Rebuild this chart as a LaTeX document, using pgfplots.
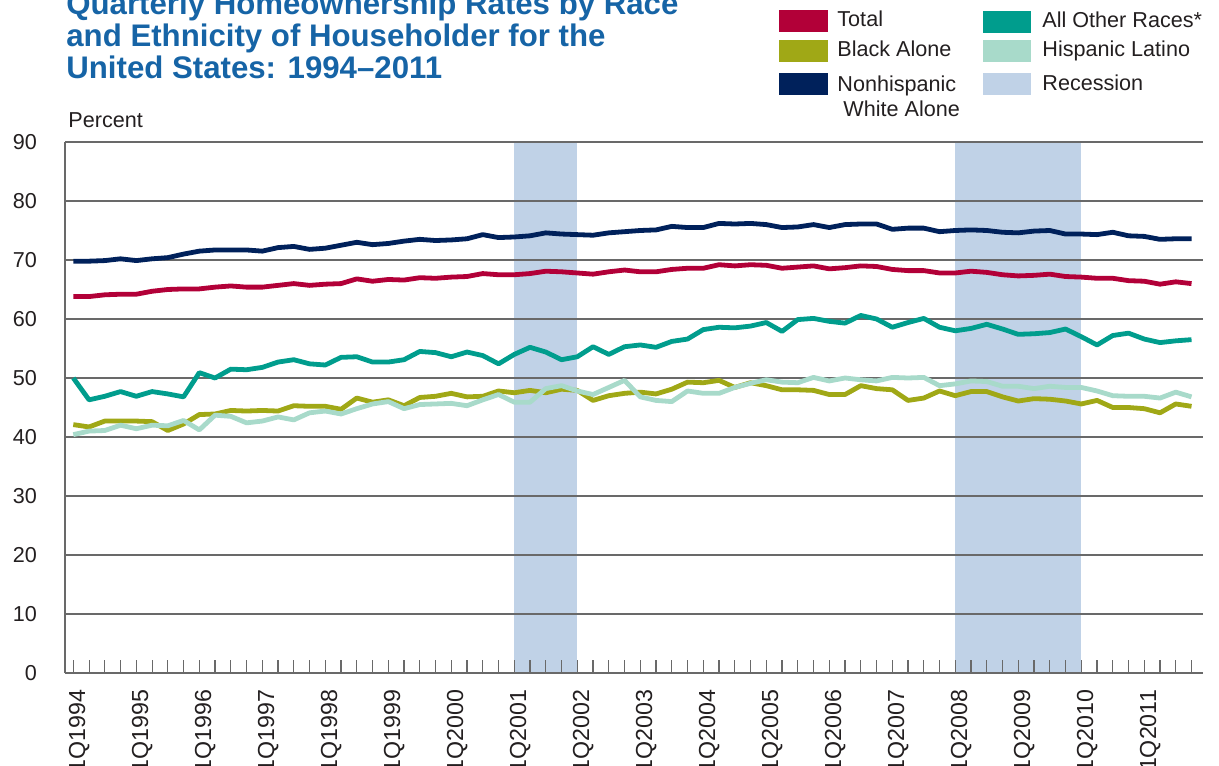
\documentclass[border=0pt]{standalone}
\usepackage{fontspec}
\setmainfont{Liberation Sans}
\usepackage{pgfplots}
\usepackage{pgfplotstable}
\pgfplotsset{compat=1.18}
\definecolor{cTotal}{RGB}{178,0,56}
\definecolor{cBlack}{RGB}{160,168,22}
\definecolor{cWhite}{RGB}{0,33,91}
\definecolor{cOther}{RGB}{0,157,141}
\definecolor{cHisp}{RGB}{168,218,202}
\definecolor{cRecess}{RGB}{192,210,231}
\definecolor{cTitle}{RGB}{22,100,166}
\definecolor{gridgray}{RGB}{105,105,105}
\definecolor{txt}{RGB}{35,31,32}
\pgfplotstableread{
i total black white other hisp
0 63.8 42.1 69.8 50.0 40.4
1 63.8 41.7 69.8 46.3 41.0
2 64.1 42.7 69.9 46.9 41.1
3 64.2 42.7 70.2 47.7 42.0
4 64.2 42.7 69.9 46.9 41.4
5 64.7 42.6 70.2 47.7 42.0
6 65.0 41.1 70.4 47.3 41.9
7 65.1 42.2 71.0 46.8 42.8
8 65.1 43.8 71.5 50.9 41.2
9 65.4 43.9 71.7 50.0 43.7
10 65.6 44.5 71.7 51.5 43.5
11 65.4 44.4 71.7 51.4 42.4
12 65.4 44.5 71.5 51.8 42.7
13 65.7 44.4 72.1 52.7 43.4
14 66.0 45.3 72.3 53.1 42.9
15 65.7 45.2 71.8 52.4 44.1
16 65.9 45.2 72.0 52.2 44.4
17 66.0 44.7 72.5 53.5 43.9
18 66.8 46.6 73.0 53.6 44.8
19 66.4 45.9 72.6 52.7 45.6
20 66.7 46.3 72.8 52.7 46.0
21 66.6 45.3 73.2 53.1 44.8
22 67.0 46.7 73.5 54.5 45.5
23 66.9 46.9 73.3 54.3 45.6
24 67.1 47.4 73.4 53.6 45.7
25 67.2 46.8 73.6 54.4 45.3
26 67.7 46.9 74.3 53.8 46.3
27 67.5 47.8 73.8 52.4 47.2
28 67.5 47.5 73.9 54.0 45.9
29 67.7 47.9 74.1 55.2 45.9
30 68.1 47.5 74.6 54.4 48.2
31 68.0 48.1 74.4 53.1 48.7
32 67.8 47.9 74.3 53.6 47.8
33 67.6 46.2 74.2 55.3 47.2
34 68.0 47.0 74.6 54.0 48.4
35 68.3 47.4 74.8 55.3 49.6
36 68.0 47.6 75.0 55.6 46.8
37 68.0 47.3 75.1 55.2 46.2
38 68.4 48.1 75.7 56.2 46.0
39 68.6 49.3 75.5 56.6 47.8
40 68.6 49.2 75.5 58.2 47.4
41 69.2 49.6 76.2 58.6 47.4
42 69.0 48.4 76.1 58.5 48.4
43 69.2 49.2 76.2 58.8 49.1
44 69.1 48.7 76.0 59.4 49.7
45 68.6 48.0 75.5 57.9 49.3
46 68.8 48.0 75.6 59.9 49.2
47 69.0 47.9 76.0 60.1 50.1
48 68.5 47.2 75.5 59.6 49.5
49 68.7 47.2 76.0 59.3 50.0
50 69.0 48.7 76.1 60.6 49.7
51 68.9 48.2 76.1 60.0 49.5
52 68.4 48.0 75.2 58.6 50.1
53 68.2 46.2 75.4 59.4 50.0
54 68.2 46.6 75.4 60.1 50.1
55 67.8 47.8 74.8 58.6 48.7
56 67.8 47.0 75.0 58.0 49.0
57 68.1 47.7 75.1 58.4 49.5
58 67.9 47.7 75.0 59.1 49.4
59 67.5 46.8 74.7 58.3 48.6
60 67.3 46.1 74.6 57.4 48.6
61 67.4 46.5 74.9 57.5 48.2
62 67.6 46.4 75.0 57.7 48.6
63 67.2 46.1 74.4 58.3 48.4
64 67.1 45.6 74.4 57.0 48.4
65 66.9 46.2 74.3 55.6 47.8
66 66.9 45.0 74.7 57.2 47.0
67 66.5 45.0 74.1 57.6 46.9
68 66.4 44.8 74.0 56.6 46.9
69 65.9 44.1 73.5 56.0 46.6
70 66.3 45.6 73.6 56.3 47.6
71 66.0 45.2 73.6 56.5 46.8
}\datatable
\newcommand{\legfont}{\fontsize{10.8}{13}\selectfont}
\begin{document}
\begin{tikzpicture}
\begin{axis}[
  at={(0,0)}, anchor=south west,
  scale only axis, width=569pt, height=265.5pt,
  set layers,
  xmin=-0.527, xmax=71.73, ymin=0, ymax=90,
  axis x line*=bottom, axis y line*=left,
  x axis line style={-, draw=gridgray, line width=1pt},
  y axis line style={-, draw=gridgray, line width=0.6pt},
  xtick={0,...,71},
  xticklabels={1Q1994,,,,1Q1995,,,,1Q1996,,,,1Q1997,,,,1Q1998,,,,1Q1999,,,,1Q2000,,,,1Q2001,,,,1Q2002,,,,1Q2003,,,,1Q2004,,,,1Q2005,,,,1Q2006,,,,1Q2007,,,,1Q2008,,,,1Q2009,,,,1Q2010,,,,1Q2011,,,,},
  xtick align=inside, major tick length=6.4pt,
  x tick style={draw=gridgray, line width=0.55pt},
  ytick={0,10,...,90}, y tick style={draw=none},
  ymajorgrids, grid style={draw=gridgray, line width=0.9pt},
  tick label style={font=\legfont, text=txt},
  /pgf/number format/assume math mode=true,
  xticklabel style={rotate=90, anchor=east, yshift=-3pt, xshift=-5pt, font=\fontsize{11.6}{13}\selectfont},
  yticklabel style={anchor=east, xshift=-10.5pt},
]
\addplot[fill=cRecess, draw=none, on layer=axis background] coordinates {(28,90) (32,90)} \closedcycle;
\addplot[fill=cRecess, draw=none, on layer=axis background] coordinates {(56,90) (64,90)} \closedcycle;
\addplot[cTotal, line width=2.4pt, line join=round, mark=none] table[x=i, y=total] {\datatable};
\addplot[cBlack, line width=2.4pt, line join=round, mark=none] table[x=i, y=black] {\datatable};
\addplot[cWhite, line width=2.4pt, line join=round, mark=none] table[x=i, y=white] {\datatable};
\addplot[cOther, line width=2.4pt, line join=round, mark=none] table[x=i, y=other] {\datatable};
\addplot[cHisp, line width=2.4pt, line join=round, mark=none] table[x=i, y=hisp] {\datatable};
\end{axis}
\begin{scope}[x=0.5pt, y=-0.5pt, shift={(-32.5pt,336.5pt)}]
  \begin{scope}[every node/.style={anchor=base west, inner sep=0, text=cTitle, font=\fontsize{15.6}{18}\selectfont\bfseries}]
    \node at (66,15) {Quarterly Homeownership Rates by Race};
    \node at (66,47) {and Ethnicity of Householder for the};
    \node at (66,79) {United States: 1994–2011};
  \end{scope}
  \begin{scope}[every node/.style={anchor=base west, inner sep=0, text=txt, font=\legfont}]
    \node at (68,128) {Percent};
    \fill[cTotal] (779,10) rectangle (828,32);
    \node at (837,27) {Total};
    \fill[cBlack] (779,40) rectangle (828,62);
    \node at (837,57) {Black Alone};
    \fill[cWhite] (779,73) rectangle (828,95);
    \node at (837,92) {Nonhispanic};
    \node at (843,117) {White Alone};
    \fill[cOther] (983,11) rectangle (1031,33);
    \node at (1042,28) {All Other Races*};
    \fill[cHisp] (983,40) rectangle (1031,62);
    \node at (1042,57) {Hispanic Latino};
    \fill[cRecess] (983,73) rectangle (1031,95);
    \node at (1042,91) {Recession};
  \end{scope}
\end{scope}
\pgfresetboundingbox
\path[use as bounding box] (-32.5pt,-46pt) rectangle (577pt,336.5pt);
\end{tikzpicture}
\end{document}
